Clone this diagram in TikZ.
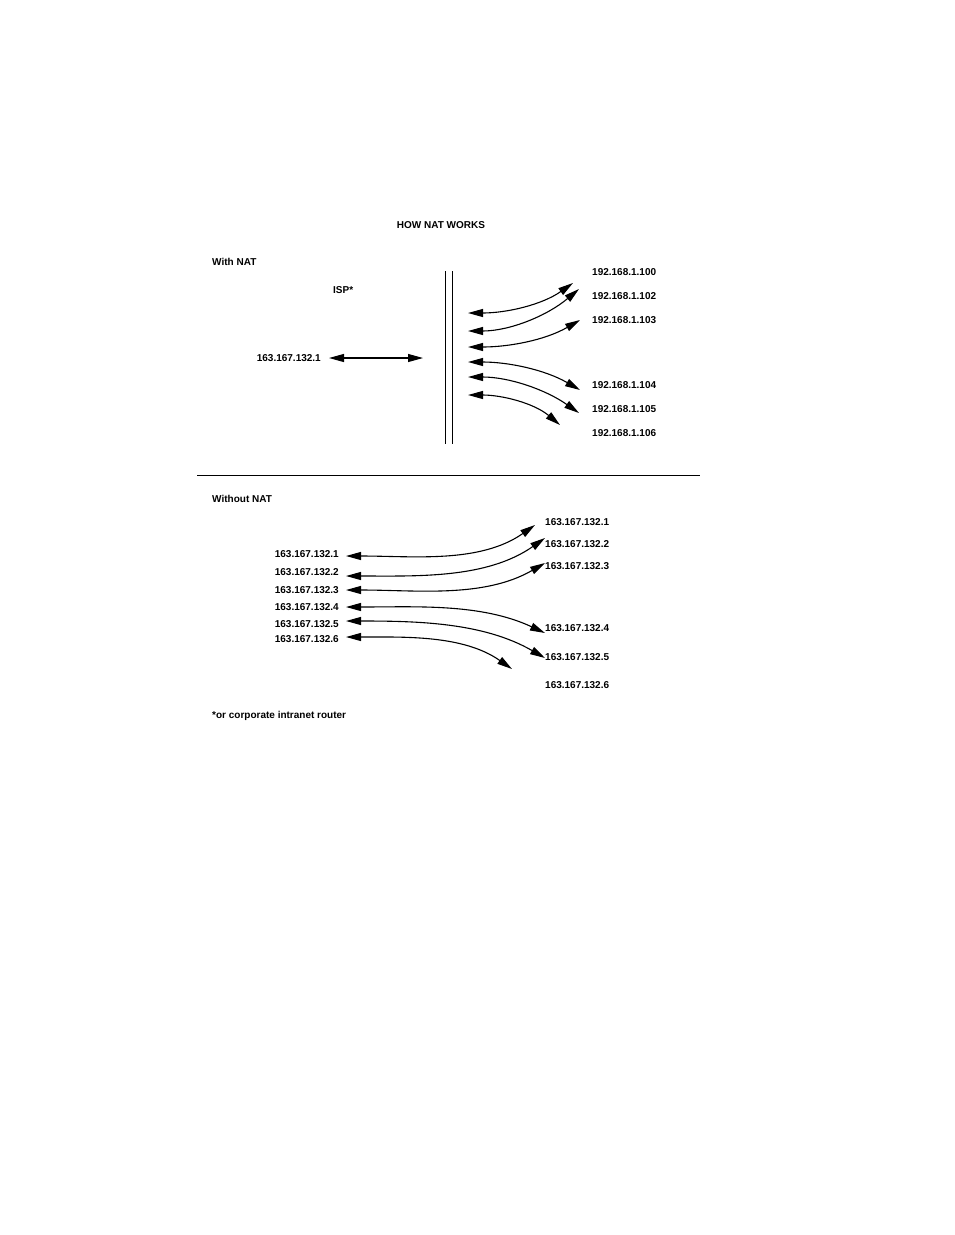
\documentclass[tikz,border=0pt]{standalone}
\usepackage{fontspec}
\setmainfont{Liberation Sans}
\usetikzlibrary{arrows.meta}
\begin{document}
\begin{tikzpicture}[x=1pt,y=-1pt,
  lbl/.style={font=\bfseries\fontsize{10}{12}\selectfont,inner sep=0pt},
  dbl/.style={line width=1.1pt,{Triangle[length=15pt,width=8pt]}-{Triangle[length=15pt,width=8pt]}}]
\useasboundingbox (0,0) rectangle (954,1235);
\node[lbl] (title) at (441,225) {HOW NAT WORKS};
\node[lbl,anchor=west] (with) at (212,262) {With NAT};
\node[lbl,anchor=west] (isp) at (333,290) {ISP*};
\node[lbl,anchor=east] (pub) at (321,358) {163.167.132.1};
\coordinate (pa) at (329,358); \coordinate (pb) at (423,358);
\draw[dbl] (pa) -- (pb);
\draw[line width=1pt] (445,271) -- (445,444) (452,271) -- (452,444);
\foreach \y/\t in {272/100,296/102,320/103,385/104,409/105,433/106}
  \node[lbl,anchor=west] at (592,\y) {192.168.1.\t};
\foreach \ly/\rx/\ry/\o in {313/573/283/215,331/579/289/220,347/580/320/210,362/580/390/150,377/579/413/145,395/560/425/140}
  \draw[dbl] (468,\ly) to[out=0,in=\o,looseness=0.9] (\rx,\ry);
\draw[line width=1pt] (197,475) -- (700,475);
\node[lbl,anchor=west] (without) at (212,499) {Without NAT};
\foreach \y/\t in {554/1,572/2,590/3,607/4,624/5,639/6}
  \node[lbl,anchor=east] at (339,\y) {163.167.132.\t};
\foreach \y/\t in {522/1,544/2,566/3,628/4,657/5,685/6}
  \node[lbl,anchor=west] at (545,\y) {163.167.132.\t};
\foreach \ly/\rx/\ry/\o in {556/535/525/215,576/545/538/215,590/545/563/210,607/545/633/155,621/545/658/150,637/512/669/145}
  \draw[dbl] (346,\ly) to[out=0,in=\o,looseness=0.9] (\rx,\ry);
\node[lbl,anchor=west] (foot) at (212,716) {*or corporate intranet router};
\end{tikzpicture}
\end{document}
